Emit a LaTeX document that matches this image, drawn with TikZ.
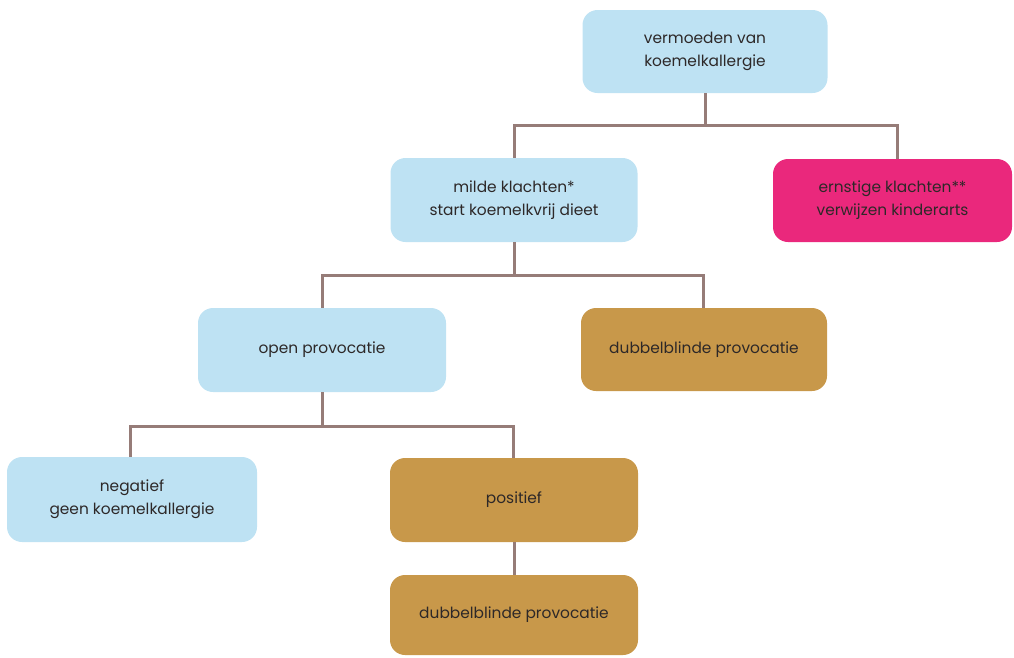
\documentclass[tikz,border=0pt]{standalone}
\usepackage{fontspec}
\setmainfont{Poppins}
\definecolor{lblue}{RGB}{190,226,243}
\definecolor{pink}{RGB}{234,40,124}
\definecolor{gold}{RGB}{200,152,74}
\definecolor{conncol}{RGB}{150,124,120}
\definecolor{txt}{RGB}{45,40,40}
\begin{document}
\begin{tikzpicture}[x=1pt,y=-1pt,
  box/.style={rectangle,rounded corners=15pt,align=center,text=txt,
    font=\fontsize{15.4}{23}\selectfont,inner sep=0pt},
  bluebox/.style={box,fill=lblue},
  pinkbox/.style={box,fill=pink},
  goldbox/.style={box,fill=gold},
  conn/.style={draw=conncol,line width=3pt}]
\useasboundingbox (0,0) rectangle (1014,657);
\node[bluebox,minimum width=245pt,minimum height=83pt] (top) at (705,51.5) {vermoeden van\\koemelkallergie};
\node[bluebox,minimum width=247pt,minimum height=84pt] (mild) at (514,200) {milde klachten*\\start koemelkvrij dieet};
\node[pinkbox,minimum width=239pt,minimum height=83pt] (red) at (892.5,200.5) {ernstige klachten**\\verwijzen kinderarts};
\node[bluebox,minimum width=248pt,minimum height=84pt] (open) at (322,350) {open provocatie};
\node[goldbox,minimum width=246pt,minimum height=83pt] (db1) at (704,349.5) {dubbelblinde provocatie};
\node[bluebox,minimum width=250pt,minimum height=85pt] (neg) at (132,499.5) {negatief\\geen koemelkallergie};
\node[goldbox,minimum width=248pt,minimum height=84pt] (pos) at (514,500) {positief};
\node[goldbox,minimum width=248pt,minimum height=80pt] (db2) at (514,615) {dubbelblinde provocatie};
\coordinate (j1) at (705,125);
\coordinate (j2) at (514,275);
\coordinate (j3) at (322,426);
\path[conn] (top.south) -- (j1) -| (mild.north);
\path[conn] (j1) -| ([xshift=4.5pt]red.north);
\path[conn] (mild.south) -- (j2) -| (open.north);
\path[conn] (j2) -| ([xshift=-1pt]db1.north);
\path[conn] (open.south) -- (j3) -| ([xshift=-2pt]neg.north);
\path[conn] (j3) -| ([xshift=-1pt]pos.north);
\path[conn] (pos.south) -- (db2.north);
\end{tikzpicture}
\end{document}
